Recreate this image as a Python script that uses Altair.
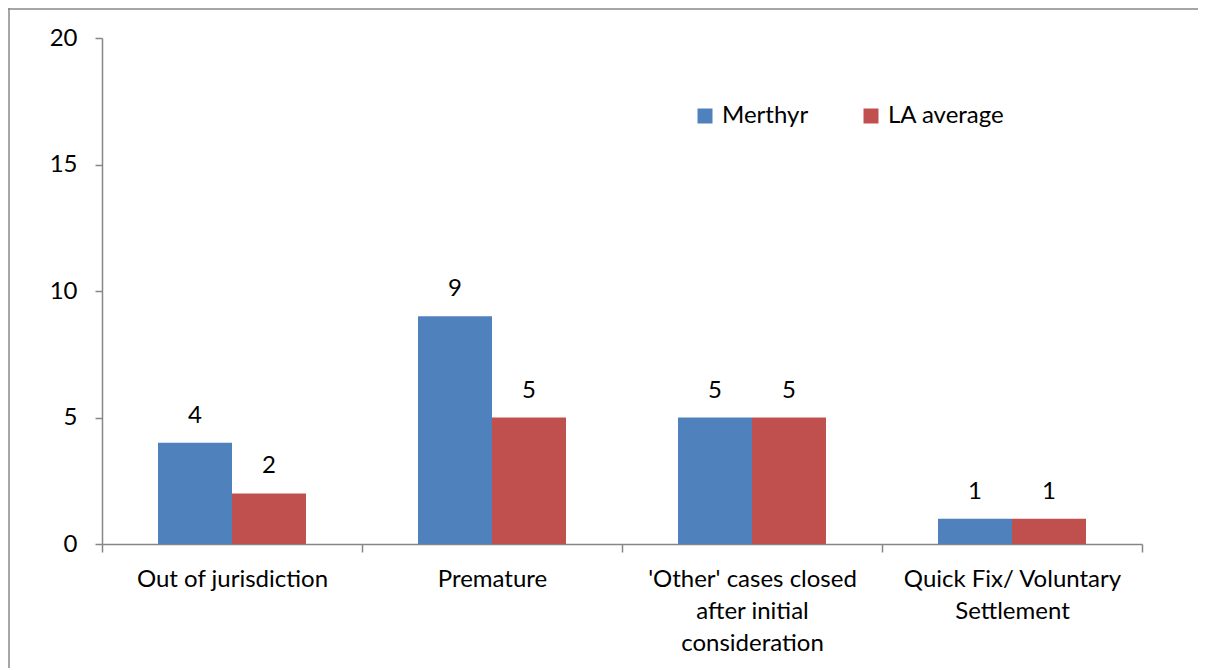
import altair as alt
import pandas as pd

categories = ["Out of jurisdiction", "Premature",
              "'Other' cases closed|after initial|consideration",
              "Quick Fix/ Voluntary|Settlement"]
series = ["Merthyr", "LA average"]
merthyr = [4, 9, 5, 1]
la_average = [2, 5, 5, 1]
y_ticks = [0, 5, 10, 15, 20]

rows = []
for c, m, l in zip(categories, merthyr, la_average):
    rows.append({"cat": c, "series": "Merthyr", "value": m})
    rows.append({"cat": c, "series": "LA average", "value": l})
df = pd.DataFrame(rows)

FONT = "Lato"
FS = 24
AX = "#868686"

x_enc = alt.X("cat:N", sort=categories, title=None,
              scale=alt.Scale(paddingInner=0, paddingOuter=0),
              axis=alt.Axis(labelExpr="split(datum.label, '|')", labelAngle=0,
                            labelFontSize=FS, labelFont=FONT, labelColor="#000000",
                            labelPadding=15, labelLineHeight=32, labelLimit=0,
                            tickBand="extent", tickSize=8, tickColor=AX,
                            domainColor=AX, domainWidth=1.5, tickWidth=1.5))
y_enc = alt.Y("value:Q", title=None,
              scale=alt.Scale(domain=[0, 20]),
              axis=alt.Axis(values=y_ticks, grid=False, labelFontSize=FS, labelFont=FONT,
                            labelColor="#000000", labelPadding=18, tickSize=7,
                            tickColor=AX, domainColor=AX, domainWidth=1.5, tickWidth=1.5))
xo = alt.XOffset("series:N", sort=series,
                 scale=alt.Scale(paddingInner=0, paddingOuter=0.757))

base = alt.Chart(df)

bars = base.mark_bar().encode(
    x=x_enc, y=y_enc, xOffset=xo,
    color=alt.Color("series:N", sort=series,
                    scale=alt.Scale(domain=series, range=["#4F81BD", "#C0504D"]),
                    legend=alt.Legend(title=None, orient="none", legendX=591, legendY=66,
                                      direction="horizontal", symbolType="square",
                                      symbolSize=225, symbolStrokeWidth=0,
                                      labelFontSize=FS, labelFont=FONT, labelColor="#000000",
                                      columnPadding=50, labelOffset=5)),
)

labels = base.mark_text(dy=-27, fontSize=FS, font=FONT, color="#000000").encode(
    x=alt.X("cat:N", sort=categories), y="value:Q", xOffset=xo, text="value:Q")

border = alt.Chart(pd.DataFrame({"k": [0]})).mark_rule(color="#888888", strokeWidth=1.5)
left_line = border.encode(x=alt.value(-93), y=alt.value(-30), y2=alt.value(640))
top_line = border.encode(x=alt.value(-94), x2=alt.value(1120), y=alt.value(-29))

chart = alt.layer(bars, labels, left_line, top_line).properties(
    width=1040, height=506,
    autosize=alt.AutoSizeParams(type="none"),
    padding={"left": 94, "top": 30, "right": 56, "bottom": 124},
).configure(background="white").configure_view(stroke=None)

chart.save("out.html", embed_options={"renderer": "svg", "actions": False})
